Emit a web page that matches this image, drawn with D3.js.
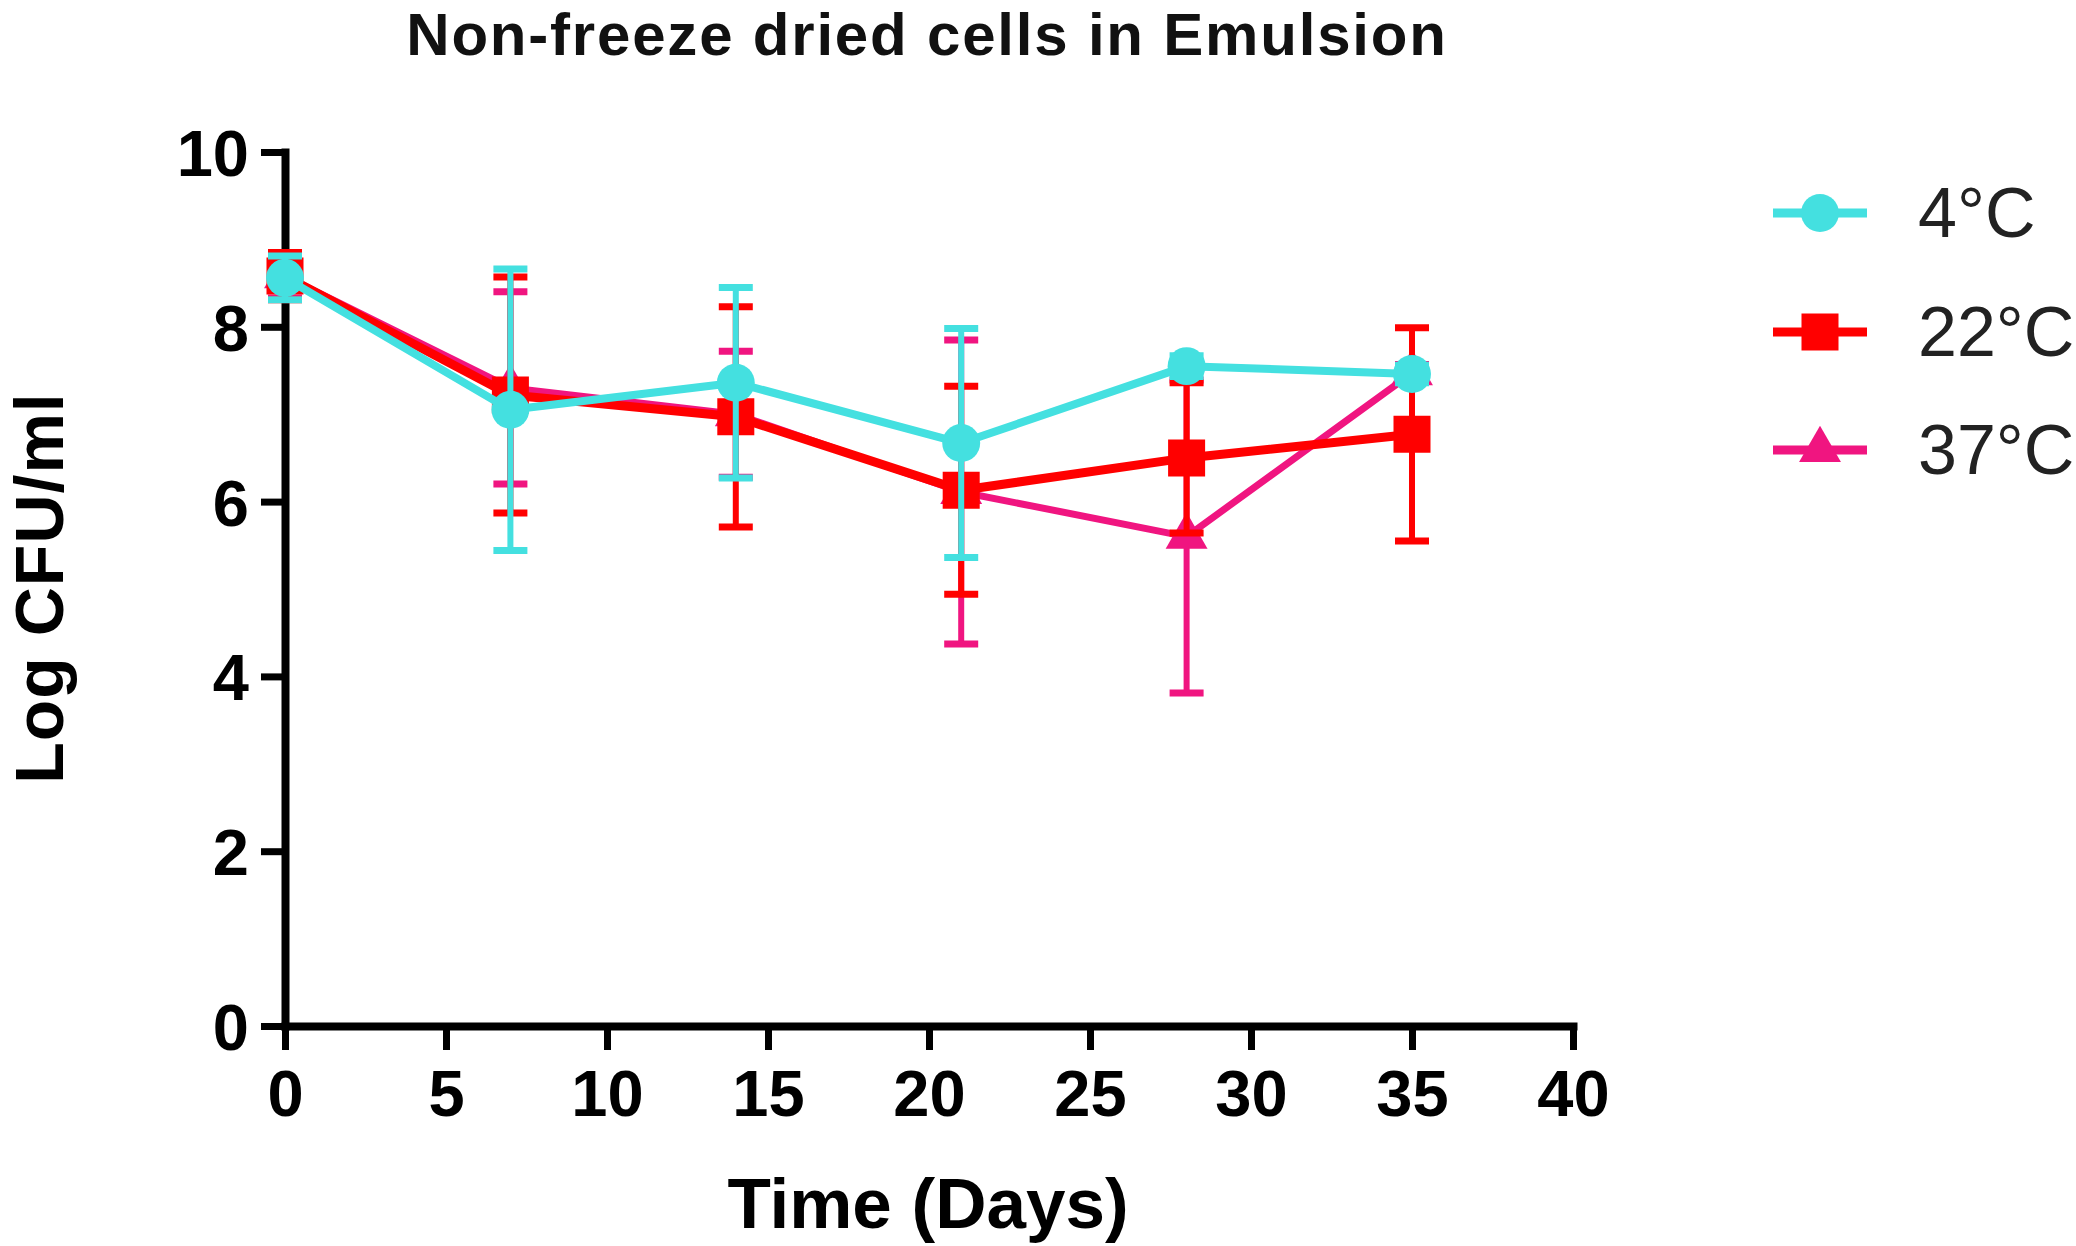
<!DOCTYPE html>
<html>
<head>
<meta charset="utf-8">
<script src="https://cdn.jsdelivr.net/npm/d3@7/dist/d3.min.js"></script>
<style>
  html, body { margin: 0; padding: 0; background: #fff; }
  svg { display: block; }
  text { font-family: Arial, "Liberation Sans", Helvetica, sans-serif; }
</style>
</head>
<body>
<svg id="chart" width="2076" height="1246"></svg>
<script>
// ---- data ----
const days = [0, 7, 14, 21, 28, 35];
const seriesNames = ["4°C", "22°C", "37°C"];
const mean4 = [8.56, 7.05, 7.36, 6.67, 7.55, 7.46];
const sd4 = [0.25, 1.61, 1.09, 1.31, 0.12, 0.10];
const mean22 = [8.58, 7.22, 6.97, 6.13, 6.50, 6.77];
const sd22 = [0.27, 1.35, 1.26, 1.19, 0.86, 1.22];
const mean37 = [8.58, 7.30, 7.00, 6.11, 5.60, 7.47];
const sd37 = [0.25, 1.10, 0.72, 1.74, 1.79, 0.10];
const xTicks = [0, 5, 10, 15, 20, 25, 30, 35, 40];
const yTicks = [0, 2, 4, 6, 8, 10];
const titleText = "Non-freeze dried cells in Emulsion";
const xTitle = "Time (Days)";
const yTitle = "Log CFU/ml";

// ---- styling ----
const colors = ["#44E0E0", "#FF0000", "#F01580"];
const symbols = [d3.symbolCircle, d3.symbolSquare, d3.symbolTriangle];
const symSizes = [1130, 1370, 760];
const lineWidths = [8, 9, 7];

const series = [
  { name: seriesNames[0], mean: mean4, sd: sd4 },
  { name: seriesNames[1], mean: mean22, sd: sd22 },
  { name: seriesNames[2], mean: mean37, sd: sd37 }
].map((s, i) => ({ ...s, color: colors[i], symbol: symbols[i], size: symSizes[i], lw: lineWidths[i], idx: i }));

const svg = d3.select("#chart");
const x = d3.scaleLinear().domain([0, 40]).range([285, 1573]);
const y = d3.scaleLinear().domain([0, 10]).range([1026, 152]);

// title
svg.append("text").attr("x", 927).attr("y", 55).attr("text-anchor", "middle")
  .attr("font-size", 60).attr("font-weight", "bold").attr("letter-spacing", 1.8)
  .attr("fill", "#111").text(titleText);

// axes
const xAxis = svg.append("g").attr("transform", `translate(0,${y(0)})`)
  .call(d3.axisBottom(x).tickValues(xTicks).tickSize(24).tickSizeOuter(0).tickPadding(20));
const yAxis = svg.append("g").attr("transform", `translate(${x(0)},0)`)
  .call(d3.axisLeft(y).tickValues(yTicks).tickSize(24).tickSizeOuter(0).tickPadding(12));
[xAxis, yAxis].forEach(g => {
  g.select(".domain").attr("stroke", "#000").attr("stroke-width", 8).attr("stroke-linecap", "square");
  g.selectAll(".tick line").attr("stroke", "#000").attr("stroke-width", 7);
  g.selectAll(".tick text").attr("fill", "#000").attr("font-size", 65).attr("font-weight", "bold")
    .attr("font-family", "Arial, 'Liberation Sans', sans-serif");
});
xAxis.selectAll(".tick text").attr("dy", "0.71em");
yAxis.selectAll(".tick text").attr("dy", "0.36em");

// axis titles
svg.append("text").attr("x", 928).attr("y", 1228).attr("text-anchor", "middle")
  .attr("font-size", 71).attr("font-weight", "bold").attr("fill", "#000").text(xTitle);
svg.append("text").attr("transform", `translate(63,588) rotate(-90)`).attr("text-anchor", "middle")
  .attr("font-size", 68).attr("font-weight", "bold").attr("letter-spacing", 1)
  .attr("fill", "#000").text(yTitle);

// plot series: 37 bottom, 22, 4 top
const drawOrder = [2, 1, 0];
const line = d3.line().x((d, i) => x(days[i])).y(d => y(d));
const capW = 34;

drawOrder.forEach(k => {
  const s = series[k];
  const g = svg.append("g");
  // error bars
  const eb = g.selectAll("g.eb").data(days.map((d, i) => ({ d, m: s.mean[i], e: s.sd[i] })))
    .enter().append("g");
  eb.append("line").attr("x1", d => x(d.d)).attr("x2", d => x(d.d))
    .attr("y1", d => y(d.m + d.e)).attr("y2", d => y(d.m - d.e))
    .attr("stroke", s.color).attr("stroke-width", 6);
  eb.append("line").attr("x1", d => x(d.d) - capW / 2).attr("x2", d => x(d.d) + capW / 2)
    .attr("y1", d => y(d.m + d.e)).attr("y2", d => y(d.m + d.e))
    .attr("stroke", s.color).attr("stroke-width", 7);
  eb.append("line").attr("x1", d => x(d.d) - capW / 2).attr("x2", d => x(d.d) + capW / 2)
    .attr("y1", d => y(d.m - d.e)).attr("y2", d => y(d.m - d.e))
    .attr("stroke", s.color).attr("stroke-width", 7);
  // line
  g.append("path").datum(s.mean).attr("d", line).attr("fill", "none")
    .attr("stroke", s.color).attr("stroke-width", s.lw).attr("stroke-linejoin", "round");
  // markers
  g.selectAll("path.mk").data(s.mean).enter().append("path")
    .attr("transform", (d, i) => `translate(${x(days[i])},${y(d)})`)
    .attr("d", d3.symbol().type(s.symbol).size(s.size)).attr("fill", s.color);
});

// legend
const legRows = [213, 332, 450];
series.forEach((s, i) => {
  const g = svg.append("g").attr("transform", `translate(0,${legRows[i]})`);
  g.append("line").attr("x1", 1773).attr("x2", 1867).attr("y1", 0).attr("y2", 0)
    .attr("stroke", s.color).attr("stroke-width", 9);
  g.append("path").attr("transform", "translate(1820,0)")
    .attr("d", d3.symbol().type(s.symbol).size(s.size)).attr("fill", s.color);
  g.append("text").attr("x", 1918).attr("y", 24).attr("font-size", 70)
    .attr("fill", "#222").text(s.name);
});
</script>
</body>
</html>
